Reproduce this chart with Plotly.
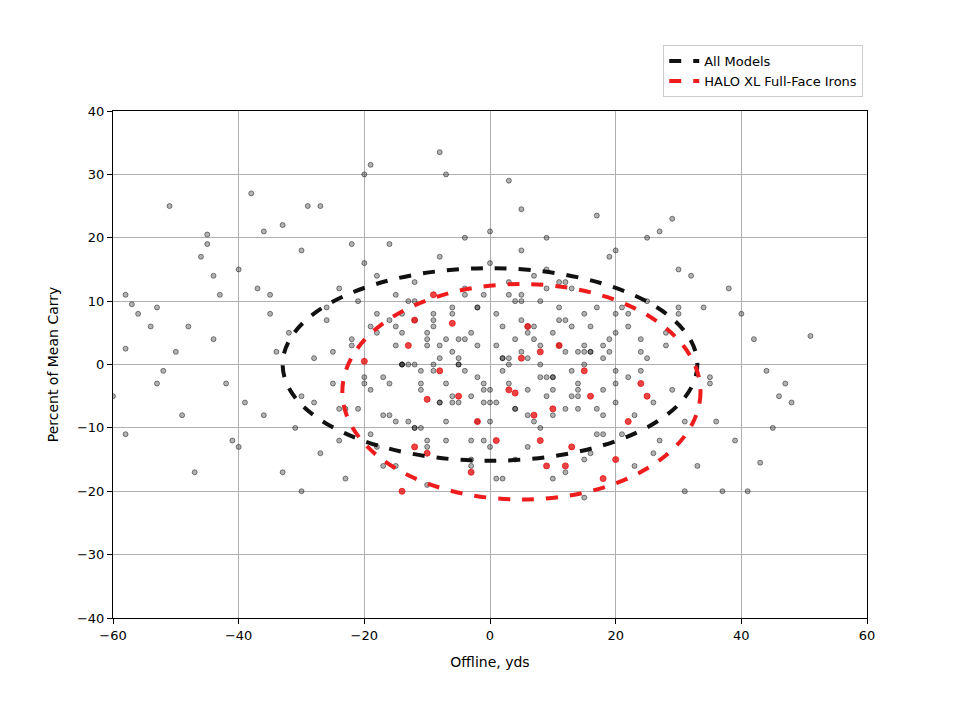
import plotly.graph_objects as go

# shot dispersion, all models (offline yds, percent of mean carry)
all_x = [-60, -58, -58, -58, -57, -56, -54, -53, -53, -52, -51, -50, -49, -48, -47, -46, -45, -45, -44, -43,
         -42, -41, -40, -40, -38, -36, -35, -33, -34, -30, -29, -27, -20, -19, -8, -7, 3, 5, 17, 27,
         30, 37, 39, 40, 41, 43, 45, 47, 48, 51, 42, 44, 38, 46, 36, 33, 34, 35, 32, -44, -39, -37,
         -36, -32, -31, -30, -28, -27, -26, -25, -24, -23, -22, -21, -20, -19, -18, -17, -16, -15, -14, -13,
         -12, -11, -10, -9, -8, -7, -6, -5, -4, -3, -2, -1, 0, 1, 2, 3, 4, 5, 6, 7,
         8, 9, 10, 11, 12, 13, 14, 15, 16, 17, 18, 19, 20, 21, 22, 23, 24, 25, 26, 27,
         28, 29, 30, 31, -28, -26, -24, -22, -20, -18, -16, -14, -12, -10, -8, -6, -4, -2, 0, 2,
         4, 6, 8, 10, 12, 14, 16, 18, 20, 22, 24, 26, 28, -25, -23, -21, -19, -17, -15, -13, -11,
         -9, -7, -5, -3, -1, 1, 3, 5, 7, 9, 11, 13, 15, 17, 19, 21, 23, 25, -18, -14, -10, -6,
         -2, 2, 6, 10, 14, 18, 22, -16, -12, -8, -4, 0, 4, 8, 12, 16, 20, -15, -9, -3, 3, 9,
         15, -35, -33, 29, 31, -22, -12, 0, 10, 20, -10, 5, 15, -5, 25, -24, 24, -30, 30, 35,
         -19, -17, -15, -13, -11, -9, -7, -5, -3, -1, 1, 3, 5, 7, 9, 11, 13, 15, 17, 19,
         -18, -16, -14, -12, -10, -8, -6, -4, -2, 0, 2, 4, 6, 8, 10, 12, 14, 16, 18, 20,
         -20, -15, -10, -5, 0, 5, 10, 15, 20, -12, -7, -2, 3, 8, 13, 18, -11, -6, -1, 4,
         9, 14, -9, -4, 1, 6, 11, -8, -3, 2, 7, 12, -14, -1, 6, 16, 22, -21, 26, -26]
all_y = [-5, 11, 2.5, -11, 9.5, 8, 6, 9, -3, -1, 25, 2, -8, 6, -17, 17, 20.5, 19, 14, 11,
         -3, -12, -13, 15, 27, 21, 8, -17, 2, -20, 25, 25, 30, 31.5, 33.5, 30, 29, 24.5, 23.5, 21,
         15, -20, -12, 8, -20, -15.5, -10, -3, -6, 4.5, 4, -1, 12, -5, -9, -16, 9, -3, 14, 4, -6, 12,
         -8, 5, -10, 18, 1, -14, 7, -3, 12, -18, 3, -7, 16, -11, 8, -2, 19, -16, 5, -9,
         13, -1, -19, 6, 17, -12, 2, -6, 20, -15, 9, -3, 21, -18, 1, 11, -7, 18, -13, 4,
         -10, 15, -2, 7, -17, 12, -5, 3, -14, 9, -8, 17, -1, -11, 6, -16, 2, 10, -6, -12,
         5, -4, 8, -9, -6, 9, -12, 4, -3, 14, -8, 0, 7, -13, 3, -5, 12, -2, -9, 6,
         -15, 1, 10, -4, 13, -7, 2, -11, 5, 8, -1, -14, 3, 2, -7, 10, -4, -16, 6, 0,
         -10, 8, -3, 4, -12, 11, -6, 1, 7, -9, -2, 13, -5, 0, -11, 4, 9, -8, 1, -13, 0, 3,
         -6, 9, -1, 5, -8, 2, -4, -2, 7, -10, 1, 4, -13, 10, 3, -7, 6, -3, 11, 0,
         -5, 13, 20, -15, 11, 22, 23, -20, 19, 10, 16, -18, 18, -12, 11, -21, 0, 20, -7,
         4, -5, 9, -2, 6, -8, 3, 10, -4, 7, -9, 0, 5, -6, 8, -3, 2, 6, -5, 3,
         -1, 8, -7, 2, 5, -3, 0, -10, 4, -6, 9, -1, 3, -4, 1, -7, 6, 0, -2, 7,
         -4, 2, 3, 8, -2, -9, 5, 1, -6, 10, 5, 2, -6, 0, 4, -9, 0, -2, 6, 1,
         -3, 8, -4, 4, 12, -3, -1, 11, 3, -8, 9, -6, -16, -18, 14, 2, 8, -12, -4]

# shots with HALO XL Full-Face irons
halo_x = [-20, -14, -13, -12, -10, -9, -8, -6, -5, -3, -2, 1, 3, 4, 5, 6, 7, 8, 8, 9, 10, 11,
          12, 13, 15, 16, 18, 20, 22, 24, 25, -10, -12]
halo_y = [0.5, -20, 3, 7, -14, 11, -1, 6.5, -5, -17, -9, -12, -4, -4.5, 1, 6, -8, 2, -12, -16, -7, 3,
          -16, -13, -1, -5, -18, -15, -9, -3, -5, -5.5, -13]

# confidence ellipses: center x, center y, half width, half height
ell_all = (0, 0, 33, 15.2)
ell_halo = (5, -4.3, 28.5, 17)

fig = go.Figure()
fig.add_trace(go.Scatter(x=all_x, y=all_y, mode="markers", showlegend=False,
                         marker=dict(size=5, color="rgba(0,0,0,0.3)",
                                     line=dict(color="rgba(0,0,0,0.45)", width=1))))
fig.add_trace(go.Scatter(x=halo_x, y=halo_y, mode="markers", showlegend=False,
                         marker=dict(size=6, color="rgba(230,20,20,0.8)",
                                     line=dict(color="rgba(230,20,20,0.8)", width=1))))

for (cx, cy, a, b), col, name in [(ell_all, "#111111", "All Models"),
                                  (ell_halo, "#ee1c1c", "HALO XL Full-Face Irons")]:
    fig.add_shape(type="circle", xref="x", yref="y", x0=cx - a, x1=cx + a, y0=cy - b, y1=cy + b,
                  line=dict(color=col, width=4, dash="dash"))
    # legend entry only
    fig.add_trace(go.Scatter(x=[None], y=[None], mode="lines", name=name,
                             line=dict(color=col, width=4, dash="dash")))

fig.update_layout(
    width=966, height=725, plot_bgcolor="white", paper_bgcolor="white",
    margin=dict(l=105, r=107, t=103, b=115),
    font=dict(family="DejaVu Sans", size=12, color="black"),
    legend=dict(x=0.995, y=1.13, xanchor="right", yanchor="top", bordercolor="#cccccc",
                borderwidth=1, bgcolor="white", font=dict(size=13)),
)
axis = dict(showgrid=True, gridcolor="#b0b0b0", zeroline=False, showline=True, linecolor="black",
            mirror=True, ticks="outside", ticklen=5, tickcolor="black", tickfont=dict(size=13))
fig.update_xaxes(range=[-60, 60], dtick=20, title_text="Offline, yds", **axis)
fig.update_yaxes(range=[-40, 40], dtick=10, title_text="Percent of Mean Carry", **axis)

fig.write_html("out.html")
